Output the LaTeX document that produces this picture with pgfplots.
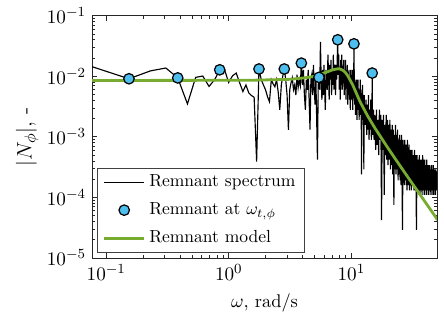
\documentclass[border=0pt]{standalone}
\usepackage{pgfplots}
\pgfplotsset{compat=1.18}
\usepackage{pgfplotstable}
\definecolor{mgreen}{RGB}{119,172,48}
\definecolor{mcyan}{RGB}{77,190,238}

\pgfplotstableread{
k v
1 0.0144
2 0.0091
3 0.0123
4 0.0137
5 0.0094
6 0.0035
7 0.0096
8 0.0101
9 0.0068
10 0.0088
11 0.0128
12 0.0132
13 0.0079
14 0.0102
15 0.0113
16 0.0078
17 0.0056
18 0.0072
19 0.0053
20 0.0048
21 0.0045
22 0.00039
23 0.0132
24 0.0088
25 0.0072
26 0.0060
27 0.0046
28 0.0038
29 0.0088
30 0.0075
31 0.0067
32 0.0088
33 0.0055
34 0.0028
35 0.0072
36 0.0102
37 0.0132
38 0.0088
39 0.0049
40 0.0013
41 0.0060
42 0.0078
43 0.0094
44 0.0060
45 0.0072
46 0.0049
47 0.0106
48 0.0065
49 0.0088
50 0.0070
51 0.0165
52 0.0072
53 0.0128
54 0.0049
55 0.0028
56 0.0088
57 0.0060
58 0.0128
59 0.0041
60 0.00131
61 0.0088
62 0.0106
63 0.0049
64 0.0155
65 0.0060
66 0.0034
67 0.0088
68 0.0019
69 0.00042
70 0.0072
71 0.0096
72 0.0060
73 0.037
74 0.0088
75 0.0041
76 0.0128
77 0.0049
78 0.0155
79 0.0060
80 0.0028
81 0.0128
82 0.0072
83 0.0060
84 0.0227
85 0.0106
86 0.0041
87 0.0155
88 0.0088
89 0.0187
90 0.0049
91 0.0128
92 0.0072
93 0.0227
94 0.0060
95 0.0128
96 0.0155
97 0.0049
98 0.0155
99 0.0088
100 0.0187
101 0.0401
102 0.0106
103 0.0227
104 0.0060
105 0.0128
106 0.0041
107 0.0187
108 0.0072
109 0.0227
110 0.0060
111 0.0128
112 0.0088
113 0.0187
114 0.0049
115 0.0128
116 0.0060
117 0.0187
118 0.0041
119 0.0128
120 0.0088
121 0.0155
122 0.0034
123 0.0106
124 0.0060
125 0.0128
126 0.0041
127 0.0088
128 0.0028
129 0.0128
130 0.0049
131 0.0088
132 0.0041
133 0.0128
134 0.0028
135 0.0072
136 0.0049
137 0.0344
138 0.0060
139 0.0034
140 0.0088
141 0.0023
142 0.0072
143 0.0041
144 0.0088
145 0.0019
146 0.0060
147 0.0028
148 0.0088
149 0.0028
150 0.0049
151 0.0019
152 0.0060
153 0.0034
154 0.0088
155 0.0023
156 0.0060
157 0.0028
158 0.00024
159 0.0041
160 0.0019
161 0.0072
162 0.0028
163 0.0041
164 0.0019
165 0.00029
166 0.0049
167 0.0023
168 0.0034
170 0.00158
172 0.0041
174 0.00108
176 0.0034
178 0.00131
180 0.0049
182 0.00089
184 0.0028
186 0.00131
188 0.0041
190 0.00089
192 0.0023
193 0.0113
194 0.0019
196 0.00108
198 0.0028
200 0.00089
203 0.0023
206 0.00061
209 0.0028
212 0.00074
215 0.0019
218 0.00050
221 0.0028
224 0.00089
227 0.0023
230 0.000042
233 0.0019
236 0.00061
239 0.0023
242 0.00011
245 0.00158
248 0.00050
251 0.0023
254 0.00042
257 0.0019
260 0.00034
263 0.00158
266 0.00042
269 0.0019
272 0.00029
275 0.00131
278 0.00034
281 0.00158
284 0.00024
287 0.00131
290 0.000075
293 0.00108
296 0.00029
299 0.00158
302 0.00024
305 0.00108
308 0.00029
311 0.00131
314 0.00019
317 0.00089
320 0.00024
323 0.00108
326 0.00019
329 0.00089
332 0.00016
335 0.00108
338 0.00019
341 0.000029
344 0.00089
347 0.00019
350 0.00074
353 0.00016
356 0.00089
359 0.00019
362 0.00074
365 0.00016
368 0.00074
371 0.00013
374 0.00089
377 0.00016
380 0.00061
383 0.00016
386 0.00074
389 0.00013
392 0.00061
395 0.00016
398 0.00061
403 0.00013
408 0.00061
413 0.00016
418 0.00050
423 0.00013
428 0.00061
433 0.00013
438 0.00050
443 0.000029
448 0.00050
453 0.00013
458 0.00042
463 0.00013
468 0.00050
473 0.00011
478 0.00042
483 0.00013
488 0.00042
493 0.00011
498 0.00050
503 0.00013
508 0.00042
513 0.00011
518 0.00042
523 0.00013
528 0.00034
533 0.00011
538 0.00042
543 0.00013
548 0.00034
553 0.00011
558 0.00034
563 0.00013
568 0.00034
573 0.00011
578 0.00029
583 0.00013
588 0.00034
593 0.00011
598 0.00029
603 0.00013
608 0.00034
613 0.00011
618 0.00029
623 0.00013
628 0.00029
633 0.00011
638 0.00029
643 0.00013
648 0.00027
}\spectrum

\pgfplotstableread{
x v
0.1534 0.0091
0.3835 0.0094
0.8437 0.0128
1.7641 0.0132
2.8379 0.0132
3.9117 0.0165
5.4456 0.0096
7.7466 0.0401
10.5078 0.0344
14.8029 0.0113
}\markers

\pgfplotstableread{
x v
0.07 0.00853
1.486 0.00859
3.147 0.00891
4.17 0.00944
5.03 0.0100
6.07 0.01143
7.05 0.0128
7.74 0.0133
8.1 0.0132
8.51 0.01256
8.9 0.0117
9.35 0.0102
10.27 0.0072
11.71 0.0039
13.6 0.0022
15.5 0.00142
19.45 0.00070
23.45 0.00040
29.9 0.000196
50.6 0.0000425
}\model

\begin{document}
\begin{tikzpicture}
\begin{axis}[name=ax, scale only axis, width=197pt, height=138.3pt,
 xmode=log, ymode=log, xmin=0.0767, xmax=50, ymin=1e-5, ymax=1e-1,
 xtick={0.1,1,10}, ytick={1e-5,1e-4,1e-3,1e-2,1e-1},
 major tick length=3pt, minor tick length=1.7pt,
 axis line style={black!85}, every tick/.style={black!85},
 tick label style={font=\fontsize{10.9}{13}\selectfont},
 xlabel={$\omega$, rad/s}, ylabel={$|N_\phi|$, -},
 xlabel style={font=\fontsize{10.5}{12}\selectfont, at={(axis description cs:0.5,-0.186)},anchor=center},
 ylabel style={font=\fontsize{12.3}{14}\selectfont, at={(axis description cs:-0.188,0.5)},anchor=center},
 legend style={at={(0.0145,0.0207)}, anchor=south west, draw=black!75,
   font=\fontsize{10}{12}\selectfont, cells={anchor=west}, row sep=3.6pt},
 legend image code/.code={\draw[mark repeat=2,mark phase=2,#1] plot coordinates {(0pt,0pt) (11.5pt,0pt) (23pt,0pt)};},
]
\addplot[black, line width=0.65pt] table[x expr=\thisrow{k}*0.076699, y=v] {\spectrum};
\addlegendentry{Remnant spectrum}
\addplot[mgreen, line width=1.6pt, forget plot] table[x=x, y=v] {\model};
\addplot[only marks, mark=*, mark size=3pt, mark options={fill=mcyan, draw=black, line width=0.7pt}] table[x=x, y=v] {\markers};
\addlegendentry{Remnant at $\omega_{t,\phi}$}
\addlegendimage{mgreen, line width=1.6pt}
\addlegendentry{Remnant model}
\end{axis}
\pgfresetboundingbox
\path ([xshift=-52.6pt,yshift=-38.3pt]ax.south west) rectangle ([xshift=4pt,yshift=9pt]ax.north east);
\end{tikzpicture}
\end{document}
